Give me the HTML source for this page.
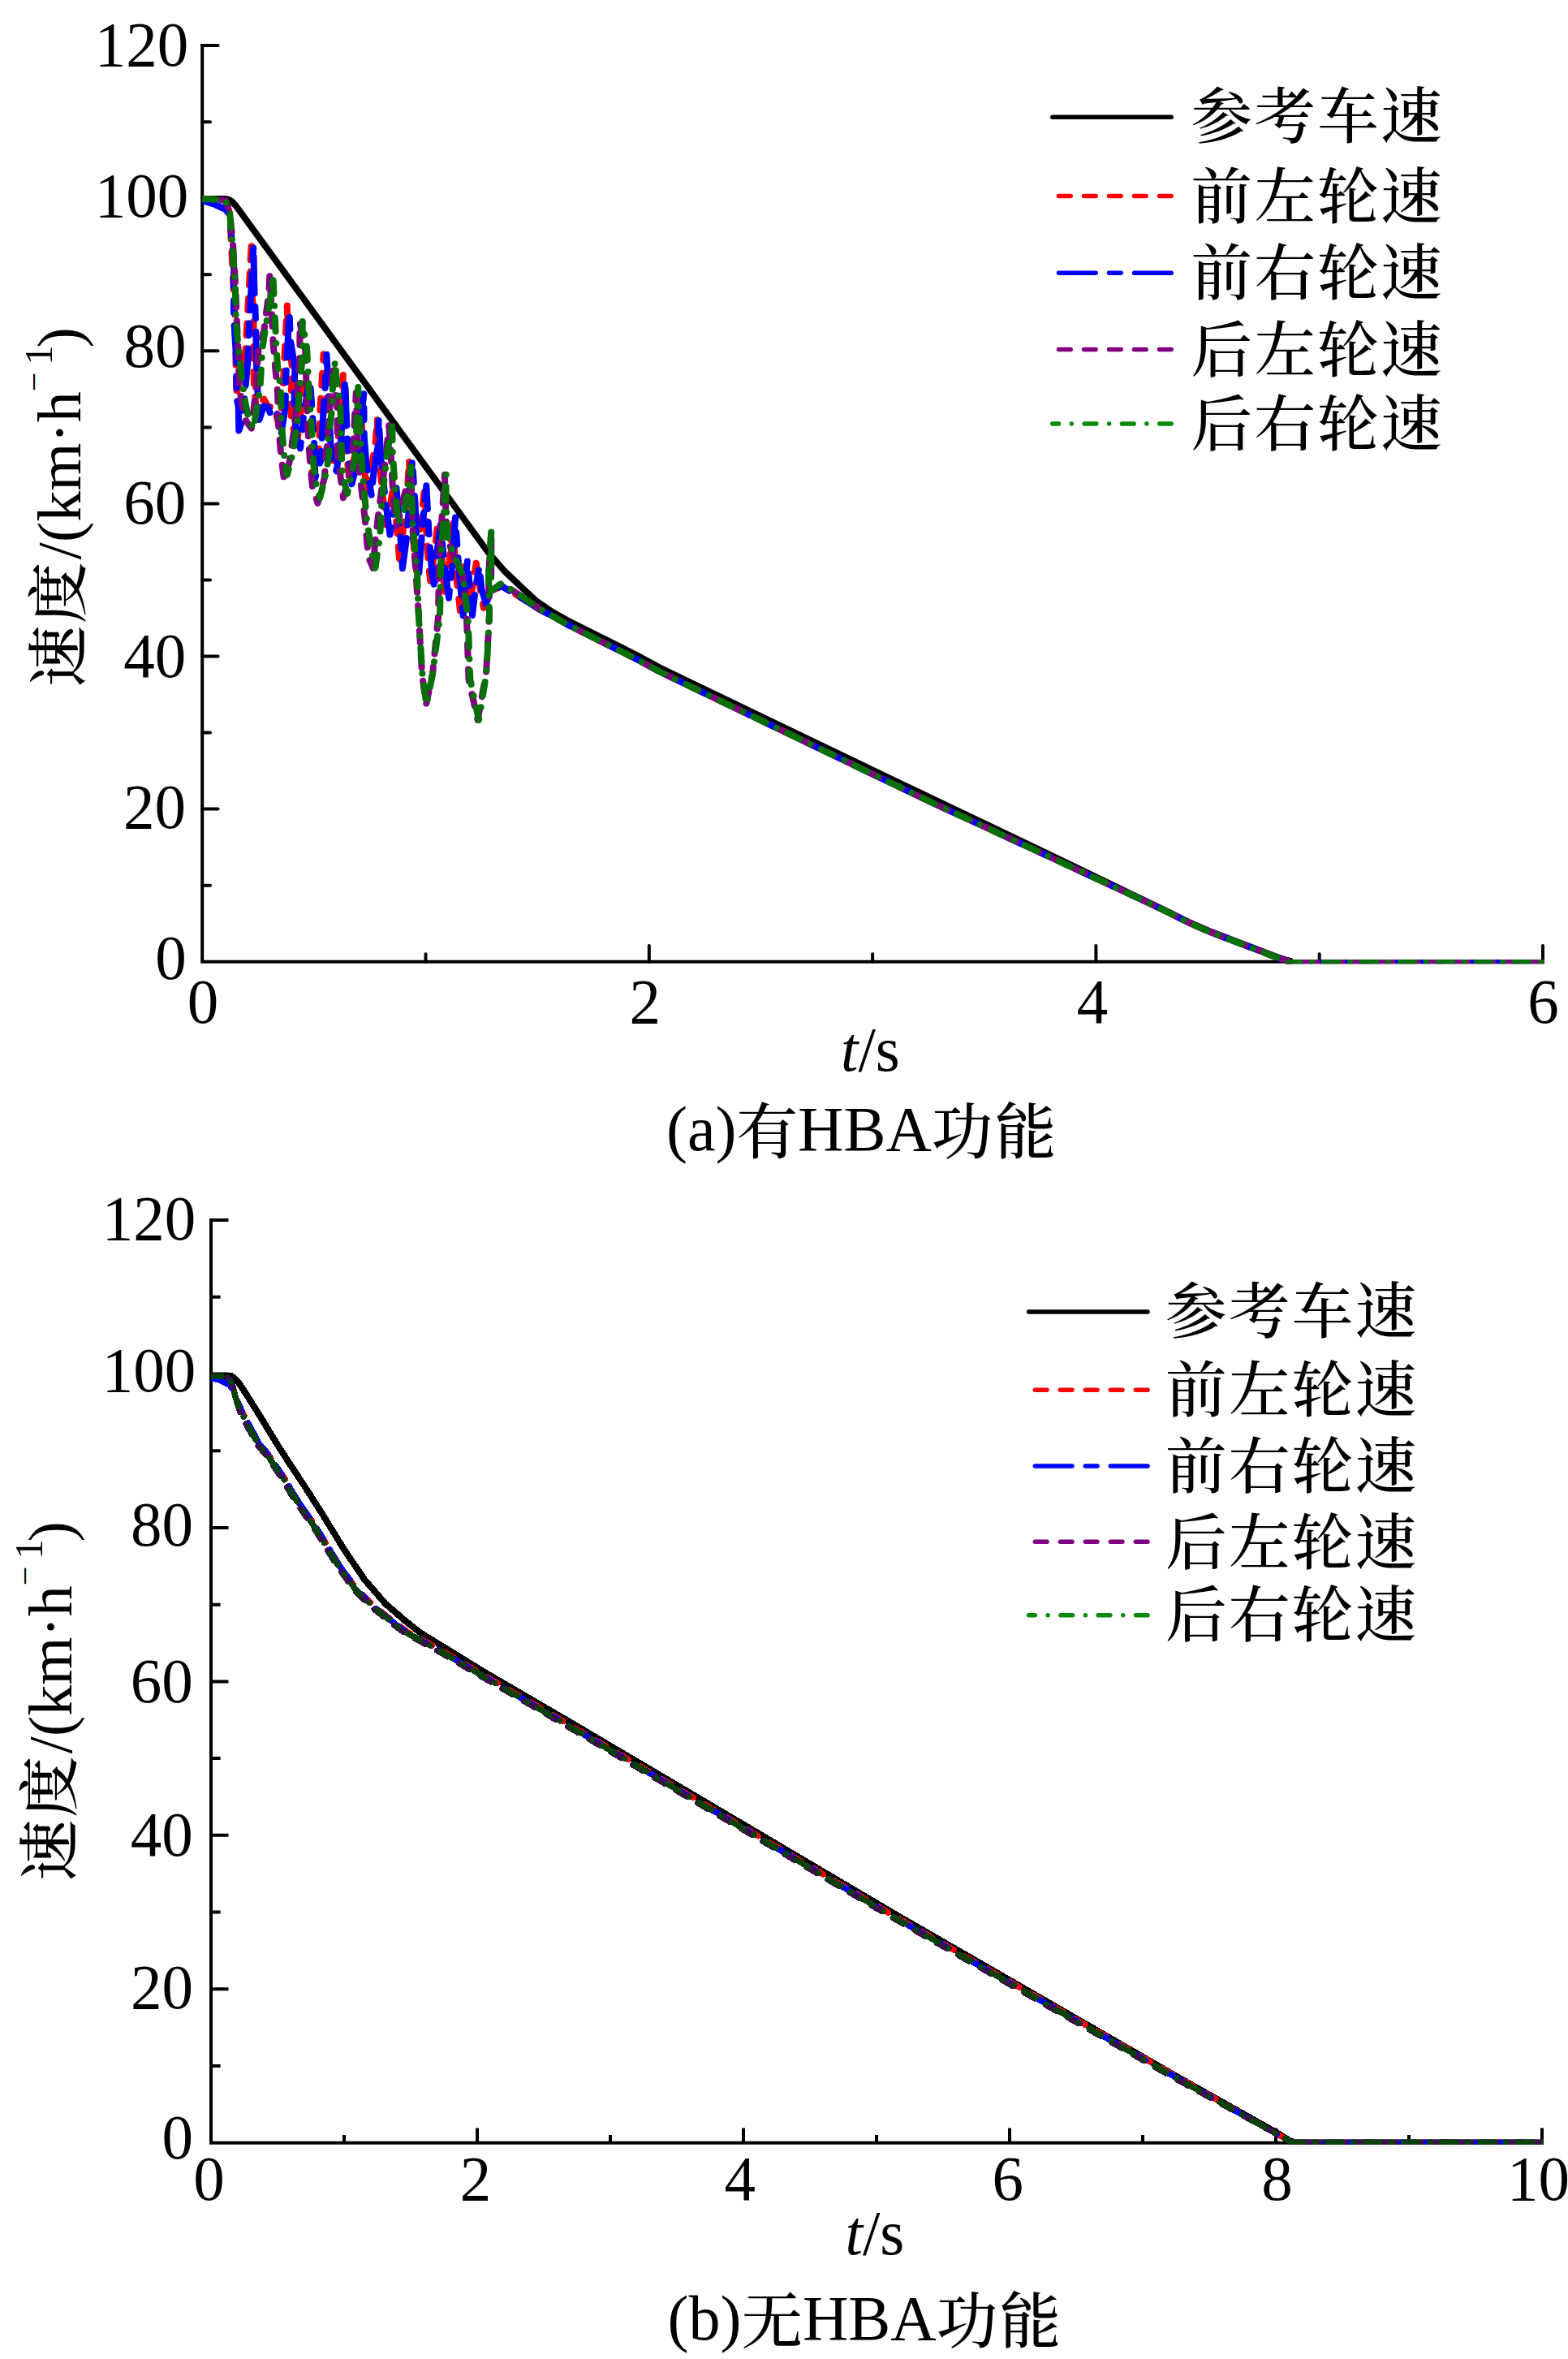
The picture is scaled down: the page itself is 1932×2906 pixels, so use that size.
<!DOCTYPE html>
<html lang="zh"><head><meta charset="utf-8"><title>制动速度曲线</title>
<style>html,body{margin:0;padding:0;background:#fff}svg{display:block}text{font-family:'Liberation Serif','Noto Serif CJK SC',serif;fill:#000}</style></head><body>
<svg width="1932" height="2906" viewBox="0 0 1932 2906" font-size="77">
<rect width="1932" height="2906" fill="#fff"/>
<defs><clipPath id="c1"><rect x="249.2" y="40" width="1653.8" height="1148"/></clipPath><clipPath id="c2"><rect x="260" y="1490" width="1642" height="1153"/></clipPath></defs>
<g id="chart-a">
<path d="M249.2 54.1 V1184.7 H1903" fill="none" stroke="#000" stroke-width="4" stroke-linejoin="miter"/>
<path d="M249.2 1090.7h9.8M249.2 996.6h19.4M249.2 902.6h9.8M249.2 808.5h19.4M249.2 714.5h9.8M249.2 620.4h19.4M249.2 526.4h9.8M249.2 432.3h19.4M249.2 338.3h9.8M249.2 244.2h19.4M249.2 150.2h9.8M249.2 56.1h19.4M524.5 1184.7v-9.4M799.8 1184.7v-19.6M1075.1 1184.7v-9.4M1350.4 1184.7v-19.6M1625.7 1184.7v-9.4M1901 1184.7v-19.6" fill="none" stroke="#000" stroke-width="4" stroke-linecap="round"/>
<g clip-path="url(#c1)">
<path d="M249.2 245 L277 245 L282 246 L286 248.5 L291 254 L601.2 680 L621.6 703.5 L642 722.9 L660 739.7 L680 753.5 L700.8 765.2 L741.6 785.6 L782.4 806 L813 822.5 L1100 960.5 L1300 1056 L1440 1123.5 L1465.8 1136.5 L1490 1147 L1575 1179.5 L1586 1183 L1592 1184.5" fill="none" stroke="#000" stroke-width="8" stroke-linejoin="round"/>
<path d="M249.2 245 L270 246.5 L278 248 L283 262 L286.1 322.8 L289.6 393 L290.4 439.6 L291.4 483.3 L291 489.2 L294.8 469.5 L298.6 436 L301.6 447.8 L304.3 398.6 L310 296.2 L308.9 340.3 L312.6 389 L312.3 445.4 L312.9 473.8 L315.9 505 L320.4 497.8 L325.3 491.7 L330.5 501.2 L338.2 501.5 L343.3 522.5 L346.7 513.9 L346.7 491.7 L349.1 468.7 L351 429.4 L353.8 376.4 L354.5 410.7 L359.7 450.8 L358.8 489.7 L358.7 512.9 L363.7 539.3 L365.2 552.4 L369.5 516.4 L374.7 474.5 L378 472.2 L381.4 500.1 L383.3 538.2 L384.2 589.6 L392.7 557.7 L394.2 508.4 L396.6 468.9 L398.6 436.3 L400.9 467.9 L402 523.6 L406.2 559.7 L411.4 575.4 L417.1 536 L419.7 502.6 L422.9 461.9 L424.7 500.1 L426.1 548.4 L429.9 588 L438.2 557.6 L442 519.9 L443.7 483.8 L446.1 531 L448.3 569.7 L451.9 607.8 L457.2 580.7 L462.9 542.4 L464.7 515.5 L466.4 562.7 L471.4 606.7 L474.8 646.1 L481.6 618 L484.1 601 L488.6 646.6 L492.6 696.2 L496.2 658.2 L501.5 609.6 L504.1 566.8 L505.9 619.1 L509.8 672.5 L513.1 703.2 L518 647.7 L523.2 600.5 L524.8 646.1 L527.6 691.8 L530.2 715.6 L535.4 680.4 L539.3 643.8 L544.7 690.1 L548.3 736.2 L553.7 690.6 L558.3 640 L560.9 698.4 L567.8 760 L569.5 727.9 L572.5 693.5 L576.6 724.3 L578.4 747.1 L583.9 711.3 L586.8 693.7 L590.2 717.4 L595.9 748.8 L605.4 728 L618 722 L640 735 L665 751 L680 758.5 L700.8 770.2 L741.6 790.6 L782.4 811 L813 827.5 L1100 965.5 L1150 989.4 L1200 1012.4 L1250 1035.5 L1300 1058.6 L1350 1081.8 L1400 1105.1 L1420 1114.5 L1440 1124.1 L1465.8 1137.1 L1490 1147.6 L1575 1180.1 L1586 1183.5" fill="none" stroke="#ff0000" stroke-width="8" stroke-linecap="round" stroke-linejoin="round" stroke-dasharray="14.7 16.3" stroke-dashoffset="0"/>
<path d="M249.2 247 L265 252 L278 258 L283 265 L288.1 326.3 L287.9 389.2 L291.2 443.3 L291.4 478.3 L292.3 494.5 L293.7 500.2 L294.3 530.5 L299 516.9 L302.6 475.6 L305.1 447.8 L307.4 393.4 L312.4 302.5 L313.2 350.5 L315.1 395.8 L315.9 444.3 L317.1 475.9 L319.5 517 L324.9 500.5 L330.4 501.2 L335.1 515.7 L341.5 510.1 L346.1 536.7 L350.1 511.3 L351.7 501 L352 472.4 L353.5 440.9 L356.5 384.6 L358.1 420.4 L363.3 452.5 L362.5 499.9 L363.8 519.8 L365.8 542.5 L370 552.3 L373.5 516.8 L379.5 477.3 L382.6 477.9 L384.8 506.2 L387.2 548.2 L388.3 588.9 L395 568.1 L398.3 510.1 L400.9 473.2 L402.5 436.7 L404.1 468.8 L405.9 521.8 L408.8 570.3 L414.6 580.3 L420.3 541.4 L421.8 510.3 L425.3 468 L426.4 503.1 L428.7 556.4 L433.5 596.4 L440.4 568.2 L444.4 521.6 L448.3 485.2 L448.7 537.7 L451.2 568.6 L457.7 610.1 L460.4 582.8 L465.8 548.4 L466.6 515.7 L469.4 564.3 L475.1 618.4 L480.5 658.6 L485.4 627.9 L488.4 601.2 L492.9 652.4 L495.9 700.3 L501.4 659.8 L504.7 613.5 L508 567 L511.6 621.6 L513.8 678.9 L516.3 705.8 L520.6 648.8 L525.3 598.3 L528.5 656.9 L531.9 701.8 L535.5 725.9 L537.9 684.2 L542.9 646.3 L547.8 699.2 L553 736.6 L557.3 695.4 L561 637.5 L565.3 699.6 L570.7 758.4 L572.5 725.5 L575.9 691 L579.5 729.5 L582 758 L585.8 725.7 L590.6 698.2 L593.3 725.2 L598.7 743.7 L605.4 728 L618 722 L640 735 L665 751 L680 758.5 L700.8 770.2 L741.6 790.6 L782.4 811 L813 827.5 L1100 965.5 L1150 989.4 L1200 1012.4 L1250 1035.5 L1300 1058.6 L1350 1081.8 L1400 1105.1 L1420 1114.5 L1440 1124.1 L1465.8 1137.1 L1490 1147.6 L1575 1180.1 L1586 1183.5" fill="none" stroke="#0000ff" stroke-width="8" stroke-linecap="round" stroke-linejoin="round" stroke-dasharray="45.7 16.3 14.7 16.3" stroke-dashoffset="10"/>
<path d="M249.2 245 L270 246 L278 247 L283 262 L287 300 L290 350 L292 400 L294 440 L294.5 473 L297.9 498.4 L303.2 518.8 L309.8 527.5 L314.9 484.7 L318.6 428.9 L325.2 407.8 L331.3 360.3 L332.3 340.2 L334.8 385.9 L336.6 422.9 L338.9 449.5 L342.1 483.7 L342.7 519.2 L346.4 562.8 L350 591 L356.8 568.4 L362.1 530.4 L365.4 499.5 L369.4 436.8 L369.4 396.7 L376.2 431.5 L377.8 486.4 L379.5 532.1 L382.4 573.7 L385 599.2 L391.4 619.9 L400 587.9 L401.6 557.3 L403.1 548.7 L406.3 504.6 L407.4 480.7 L410.9 448.6 L412 469.5 L415.7 507.9 L415.5 554.4 L419.3 585.2 L423 613.2 L429.4 589.4 L434.3 564.4 L437.7 502.6 L438.8 483.8 L440.5 537 L443 581.6 L449.7 639.3 L453.8 686.3 L459.7 699.8 L462.4 665.9 L467.1 626.7 L475.5 562 L479.2 524.2 L481.8 563.8 L484.6 614 L489.2 648.1 L491.3 639.8 L494.9 621.4 L501.6 598.2 L506.5 575 L508 645 L512 700 L516 760 L520 830 L525 868 L533 830 L540 760 L541 693 L545 630 L548 584.8 L548.5 613 L551 661 L560 690 L570 709 L575 762 L577.5 837 L588.6 887 L599 829 L603 757 L602 709 L605.4 653 L605.2 700 L605 728 L618 718.7 L640 733 L665 750 L680 758.5 L700.8 770.2 L741.6 790.6 L782.4 811 L813 827.5 L1100 965.5 L1150 989.4 L1200 1012.4 L1250 1035.5 L1300 1058.6 L1350 1081.8 L1400 1105.1 L1420 1114.5 L1440 1124.1 L1465.8 1137.1 L1490 1147.6 L1575 1180.1 L1586 1183.5" fill="none" stroke="#800080" stroke-width="8" stroke-linecap="round" stroke-linejoin="round" stroke-dasharray="14.7 16.3" stroke-dashoffset="8"/>
<path d="M249.2 245 L270 246 L278 247 L283 262 L286.4 300 L289.8 350 L291 400 L295 440 L298.6 470 L302.1 495 L306.2 515 L312.3 528 L320.4 479 L323.4 428 L327 405 L334.6 357.5 L336.4 340 L338.3 380 L340 418 L341.9 450 L346 480 L346.8 520 L350 560 L353.9 585 L359.8 562 L366.1 525 L368.2 493 L372.8 437 L372.7 396 L378.1 429 L380.9 485 L384.2 530 L386.1 570 L388.6 593 L394.2 613.5 L402.2 581 L405.7 557 L404.6 542 L409.4 501 L409.8 480 L412.8 445 L414.9 470 L419.4 501 L420.6 549 L421.8 585 L428.1 608 L431.8 590 L437.8 565 L440.2 501 L441.3 477 L443.7 530 L446.6 582 L451.9 640 L458.7 684 L462.4 699.6 L468.2 660 L470.3 620 L476.9 560 L483.2 521 L483.9 560 L487.4 610 L490.7 645 L495.7 635 L500.2 620 L503.4 595 L506.4 575 L508.4 645 L513.8 700 L515.9 760 L520.4 830 L525.4 868 L533.1 830 L542 760 L543.2 693 L547 630 L549.7 584.8 L549.5 613 L551.3 661 L562 690 L570.6 709 L576.7 762 L579.3 837 L590 887 L599.4 829 L603 757 L602 709 L605.4 653 L605.2 700 L605 728 L618 718.7 L640 733 L665 750 L680 758.5 L700.8 770.2 L741.6 790.6 L782.4 811 L813 827.5 L1100 965.5 L1150 989.4 L1200 1012.4 L1250 1035.5 L1300 1058.6 L1350 1081.8 L1400 1105.1 L1420 1114.5 L1440 1124.1 L1465.8 1137.1 L1490 1147.6 L1575 1180.1 L1586 1183.5" fill="none" stroke="#077007" stroke-width="8" stroke-linecap="round" stroke-linejoin="round" stroke-dasharray="17 14.6 0.01 14.6" stroke-dashoffset="0"/>
<path d="M1584 1184.6H1903" fill="none" stroke="#ff0000" stroke-width="5.2" stroke-dasharray="22 9" stroke-dashoffset="0"/>
<path d="M1584 1184.6H1903" fill="none" stroke="#0000ff" stroke-width="5.2" stroke-dasharray="53 9 22 9" stroke-dashoffset="20"/>
<path d="M1584 1184.6H1903" fill="none" stroke="#800080" stroke-width="5.2" stroke-dasharray="22 9" stroke-dashoffset="11"/>
<path d="M1584 1184.6H1903" fill="none" stroke="#077007" stroke-width="5.2" stroke-dasharray="24 8 7 8" stroke-dashoffset="3"/>
</g>
<text transform="translate(232.3 80.7) scale(0.975 1)" font-size="79" text-anchor="end">120</text>
<text transform="translate(232.3 266.5) scale(0.975 1)" font-size="79" text-anchor="end">100</text>
<text transform="translate(229.5 451.9) scale(0.975 1)" font-size="79" text-anchor="end">80</text>
<text transform="translate(229.3 644.7) scale(0.975 1)" font-size="79" text-anchor="end">60</text>
<text transform="translate(229.3 833.5) scale(0.975 1)" font-size="79" text-anchor="end">40</text>
<text transform="translate(229 1019.7) scale(0.975 1)" font-size="79" text-anchor="end">20</text>
<text transform="translate(229.7 1206.3) scale(0.975 1)" font-size="79" text-anchor="end">0</text>
<text transform="translate(250 1259.6) scale(0.975 1)" font-size="79" text-anchor="middle">0</text>
<text transform="translate(794.8 1259.6) scale(0.975 1)" font-size="79" text-anchor="middle">2</text>
<text transform="translate(1346 1259.6) scale(0.975 1)" font-size="79" text-anchor="middle">4</text>
<text transform="translate(1901.5 1259.6) scale(0.975 1)" font-size="79" text-anchor="middle">6</text>
<text transform="translate(99 846) rotate(-90)" font-size="76"><tspan font-size="75.5" letter-spacing="2.4" font-weight="500">速度</tspan><tspan dx="1">/(km·h</tspan><tspan font-size="42" dy="-43">−</tspan><tspan font-size="49" dy="7.6" dx="8.9">1</tspan><tspan dy="35.4" dx="-3.2">)</tspan></text>
<text transform="translate(1036 1318.6) scale(0.975 1)" font-size="79"><tspan font-style="italic">t</tspan>/s</text>
<text x="821" y="1417" font-size="78">(a)<tspan font-size="75.5" dy="3.5" font-weight="500">有</tspan><tspan dy="-3.5">HBA</tspan><tspan font-size="75.5" dy="3.5" letter-spacing="2.4" font-weight="500">功能</tspan></text>
<path d="M1296.8 144.3H1443.2" stroke="#000" stroke-width="5.5" stroke-linecap="round"/>
<text x="1467.5" y="170.3" font-size="75.5" letter-spacing="2.4" font-weight="500">参考车速</text>
<path d="M1304.5 241.6H1443.2" stroke="#ff0000" stroke-width="5.5" stroke-linecap="round" stroke-dasharray="14.7 16.3"/>
<text x="1467.5" y="268.6" font-size="75.5" letter-spacing="2.4" font-weight="500">前左轮速</text>
<path d="M1304.5 336.2H1443.2" stroke="#0000ff" stroke-width="5.5" stroke-linecap="round" stroke-dasharray="45.7 16.3 14.7 16.3"/>
<text x="1467.5" y="362.8" font-size="75.5" letter-spacing="2.4" font-weight="500">前右轮速</text>
<path d="M1304.5 430.6H1443.2" stroke="#800080" stroke-width="5.5" stroke-linecap="round" stroke-dasharray="14.7 16.3"/>
<text x="1467.5" y="457.5" font-size="75.5" letter-spacing="2.4" font-weight="500">后左轮速</text>
<path d="M1296.7 522.1H1443.2" stroke="#0a8a0a" stroke-width="5.5" stroke-linecap="round" stroke-dasharray="7.8 15.8 0.01 15.8 14.7 15.8 0.01 15.8 14.7 15.8 0.01 15.8 14.7 50"/>
<text x="1467.5" y="548.8" font-size="75.5" letter-spacing="2.4" font-weight="500">后右轮速</text>
</g>
<g id="chart-b">
<path d="M260 1501.1 V2639.7 H1902" fill="none" stroke="#000" stroke-width="4" stroke-linejoin="miter"/>
<path d="M260 2545h11.6M260 2450.3h21.5M260 2355.5h11.6M260 2260.8h21.5M260 2166.1h11.6M260 2071.4h21.5M260 1976.7h11.6M260 1881.9h21.5M260 1787.2h11.6M260 1692.5h21.5M260 1597.8h11.6M260 1503.1h21.5M424 2639.7v-9.6M588 2639.7v-18.2M752 2639.7v-9.6M916 2639.7v-18.2M1080 2639.7v-9.6M1244 2639.7v-18.2M1408 2639.7v-9.6M1572 2639.7v-18.2M1736 2639.7v-9.6M1900 2639.7v-18.2" fill="none" stroke="#000" stroke-width="4" stroke-linecap="butt"/>
<g clip-path="url(#c2)">
<path d="M260 1694.5 L283.7 1694.5 L288 1697 L293.3 1702 L302.8 1716.4 L322 1747 L341.1 1778.5 L360.2 1808.2 L378 1835 L398.3 1867 L423.8 1908.5 L449.3 1946 L474.8 1975.5 L500.3 1997.5 L518.3 2011.6 L556.5 2035 L594.8 2058.7 L700 2120 L1102 2357.5 L1450 2558 L1574.4 2628 L1588 2636.5 L1593 2638.5" fill="none" stroke="#000" stroke-width="8" stroke-linejoin="round" shape-rendering="crispEdges"/>
<path d="M256 1695.2 L279 1695.8 L284 1700 L287.5 1710 L290.4 1722 L298.1 1738.3 L309.6 1760.3 L318.2 1776.6 L328.7 1789 L337.3 1801.5 L351.7 1822.5 L361.2 1839.7 L391.6 1884.6 L417.1 1926.7 L440.1 1958.6 L463 1980.2 L488.6 2000.6 L502.6 2010.8 L526.8 2023.6 L552.3 2038 L595.8 2063.5 L701 2124.5 L1103 2361 L1451 2559 L1574.4 2629.5 L1590 2638" fill="none" stroke="#ff0000" stroke-width="7.5" stroke-linecap="round" stroke-linejoin="round" stroke-dasharray="14.7 16.3" stroke-dashoffset="0" shape-rendering="crispEdges"/>
<path d="M256 1696.5 L270 1700 L283 1706 L288 1714 L290.4 1722 L299.1 1740.3 L310.6 1762.3 L319.2 1778.6 L329.7 1791 L338.3 1803.5 L352.7 1824.5 L362.2 1841.7 L392.6 1886.6 L418.1 1928.7 L441.1 1960.6 L464 1982.2 L489.6 2002.6 L503.6 2012.8 L527.8 2025.6 L553.3 2040 L596.8 2065.5 L702 2126.5 L1104 2363 L1452 2561 L1574.4 2629.5 L1590 2638" fill="none" stroke="#0000ff" stroke-width="7.5" stroke-linecap="round" stroke-linejoin="round" stroke-dasharray="45.7 16.3 14.7 16.3" stroke-dashoffset="12" shape-rendering="crispEdges"/>
<path d="M256 1695.2 L279 1695.8 L284 1700 L287.5 1710 L290.4 1722 L296.1 1740.3 L307.6 1762.3 L316.2 1778.6 L326.7 1791 L335.3 1803.5 L349.7 1824.5 L359.2 1841.7 L389.6 1886.6 L415.1 1928.7 L438.1 1960.6 L461 1982.2 L486.6 2002.6 L500.6 2012.8 L524.8 2025.6 L550.3 2040 L593.8 2065.5 L699 2126.5 L1101 2363 L1449 2561 L1574.4 2629.5 L1590 2638" fill="none" stroke="#3a0f4a" stroke-width="7.5" stroke-linecap="round" stroke-linejoin="round" stroke-dasharray="14.7 16.3" stroke-dashoffset="6" shape-rendering="crispEdges"/>
<path d="M256 1695.2 L279 1695.8 L284 1700 L287.5 1710 L290.4 1722 L297.1 1739.3 L308.6 1761.3 L317.2 1777.6 L327.7 1790 L336.3 1802.5 L350.7 1823.5 L360.2 1840.7 L390.6 1885.6 L416.1 1927.7 L439.1 1959.6 L462 1981.2 L487.6 2001.6 L501.6 2011.8 L525.8 2024.6 L551.3 2039 L594.8 2064.5 L700 2125.5 L1102 2362 L1450 2560 L1574.4 2629.5 L1590 2638" fill="none" stroke="#0a400a" stroke-width="7.5" stroke-linecap="round" stroke-linejoin="round" stroke-dasharray="17 14.6 0.01 14.6" stroke-dashoffset="0" shape-rendering="crispEdges"/>
<path d="M1588 2638.7H1901.6" fill="none" stroke="#ff0000" stroke-width="6.4" stroke-dasharray="22 9" stroke-dashoffset="0"/>
<path d="M1588 2638.7H1901.6" fill="none" stroke="#0000ff" stroke-width="6.4" stroke-dasharray="53 9 22 9" stroke-dashoffset="20"/>
<path d="M1588 2638.7H1901.6" fill="none" stroke="#3a0f4a" stroke-width="6.4" stroke-dasharray="22 9" stroke-dashoffset="11"/>
<path d="M1588 2638.7H1901.6" fill="none" stroke="#0a400a" stroke-width="6.4" stroke-dasharray="24 8 7 8" stroke-dashoffset="3"/>
</g>
<text transform="translate(241.3 1527.3) scale(0.975 1)" font-size="79" text-anchor="end">120</text>
<text transform="translate(241.3 1713.9) scale(0.975 1)" font-size="79" text-anchor="end">100</text>
<text transform="translate(238.1 1904.2) scale(0.975 1)" font-size="79" text-anchor="end">80</text>
<text transform="translate(237.7 2096.9) scale(0.975 1)" font-size="79" text-anchor="end">60</text>
<text transform="translate(237.7 2286.2) scale(0.975 1)" font-size="79" text-anchor="end">40</text>
<text transform="translate(238.1 2473.7) scale(0.975 1)" font-size="79" text-anchor="end">20</text>
<text transform="translate(238 2658.9) scale(0.975 1)" font-size="79" text-anchor="end">0</text>
<text transform="translate(257.4 2710.3) scale(0.975 1)" font-size="79" text-anchor="middle">0</text>
<text transform="translate(586 2710.3) scale(0.975 1)" font-size="79" text-anchor="middle">2</text>
<text transform="translate(911.7 2710.3) scale(0.975 1)" font-size="79" text-anchor="middle">4</text>
<text transform="translate(1241.7 2710.3) scale(0.975 1)" font-size="79" text-anchor="middle">6</text>
<text transform="translate(1573.5 2710.3) scale(0.975 1)" font-size="79" text-anchor="middle">8</text>
<text transform="translate(1895.5 2710.3) scale(0.975 1)" font-size="79" text-anchor="middle">10</text>
<text transform="translate(87.7 2317) rotate(-90)" font-size="76"><tspan font-size="75.5" letter-spacing="2.4" font-weight="500">速度</tspan><tspan dx="1">/(km·h</tspan><tspan font-size="42" dy="-43">−</tspan><tspan font-size="49" dy="7.6" dx="8.9">1</tspan><tspan dy="35.4" dx="-3.2">)</tspan></text>
<text transform="translate(1041.5 2777) scale(0.975 1)" font-size="79"><tspan font-style="italic">t</tspan>/s</text>
<text x="822.5" y="2882" font-size="78">(b)<tspan font-size="75.5" dy="3.5" font-weight="500">无</tspan><tspan dy="-3.5">HBA</tspan><tspan font-size="75.5" dy="3.5" letter-spacing="2.4" font-weight="500">功能</tspan></text>
<path d="M1267.5 1616H1414" stroke="#000" stroke-width="5.5" stroke-linecap="round"/>
<text x="1436" y="1642" font-size="75.5" letter-spacing="2.4" font-weight="500">参考车速</text>
<path d="M1275.3 1712.3H1414" stroke="#ff0000" stroke-width="5.5" stroke-linecap="round" stroke-dasharray="14.7 16.3"/>
<text x="1436" y="1739" font-size="75.5" letter-spacing="2.4" font-weight="500">前左轮速</text>
<path d="M1275.3 1805.9H1414" stroke="#0000ff" stroke-width="5.5" stroke-linecap="round" stroke-dasharray="45.7 16.3 14.7 16.3"/>
<text x="1436" y="1833" font-size="75.5" letter-spacing="2.4" font-weight="500">前右轮速</text>
<path d="M1275.3 1899.3H1414" stroke="#800080" stroke-width="5.5" stroke-linecap="round" stroke-dasharray="14.7 16.3"/>
<text x="1436" y="1927" font-size="75.5" letter-spacing="2.4" font-weight="500">后左轮速</text>
<path d="M1267.5 1989.8H1414" stroke="#0a8a0a" stroke-width="5.5" stroke-linecap="round" stroke-dasharray="7.8 15.8 0.01 15.8 14.7 15.8 0.01 15.8 14.7 15.8 0.01 15.8 14.7 50"/>
<text x="1436" y="2016" font-size="75.5" letter-spacing="2.4" font-weight="500">后右轮速</text>
</g>
</svg></body></html>
